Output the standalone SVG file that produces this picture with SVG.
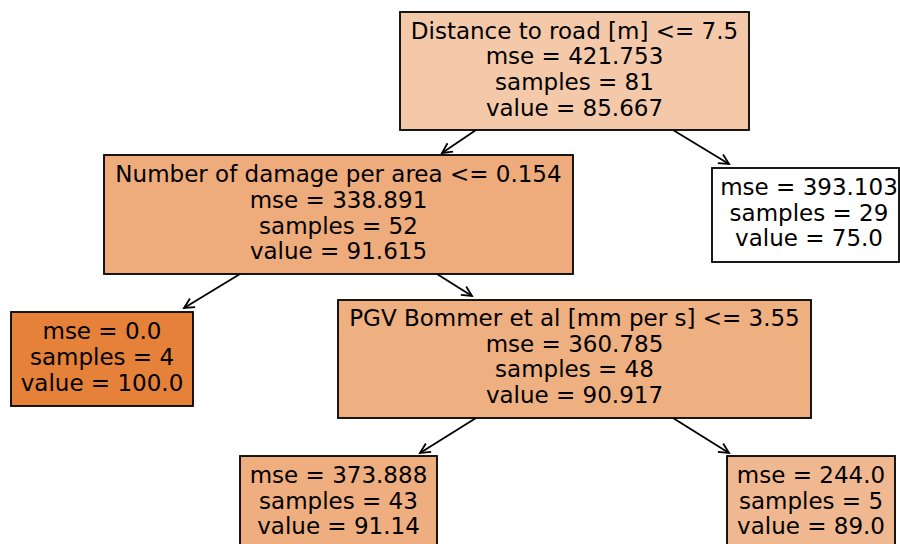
<svg xmlns="http://www.w3.org/2000/svg" width="900" height="544" viewBox="0 0 900 544">
<defs>
<style>
.box{stroke:#000;stroke-width:1.8}
text{font-family:"DejaVu Sans","Liberation Sans",sans-serif;font-size:23px;fill:#000;text-anchor:middle}
.edge{stroke:#000;stroke-width:1.8;fill:none}
</style>
<marker id="arr" markerWidth="14" markerHeight="14" refX="12" refY="7" orient="auto" markerUnits="userSpaceOnUse">
<path d="M2,2 L12,7 L2,12" fill="none" stroke="#000" stroke-width="1.8"/>
</marker>
</defs>
<rect width="900" height="544" fill="#fff"/>
<g id="connectors">
<line class="edge" x1="476" y1="130" x2="442" y2="153" marker-end="url(#arr)"/>
<line class="edge" x1="673" y1="130" x2="729" y2="164" marker-end="url(#arr)"/>
<line class="edge" x1="240" y1="274" x2="184" y2="308" marker-end="url(#arr)"/>
<line class="edge" x1="437" y1="274" x2="472" y2="296" marker-end="url(#arr)"/>
<line class="edge" x1="476" y1="418" x2="420" y2="453" marker-end="url(#arr)"/>
<line class="edge" x1="673" y1="418" x2="729" y2="453" marker-end="url(#arr)"/>
</g>
<g id="node0">
<rect class="box" x="400" y="12" width="349" height="118" fill="#f4c9aa"/>
<text x="574.5" y="38.5">Distance to road [m] &lt;= 7.5</text>
<text x="574.5" y="64.3">mse = 421.753</text>
<text x="574.5" y="90">samples = 81</text>
<text x="574.5" y="115.8">value = 85.667</text>
</g>
<g id="node1">
<rect class="box" x="104" y="155" width="469" height="119" fill="#eeab7b"/>
<text x="338.5" y="182">Number of damage per area &lt;= 0.154</text>
<text x="338.5" y="208">mse = 338.891</text>
<text x="338.5" y="233.7">samples = 52</text>
<text x="338.5" y="259.4">value = 91.615</text>
</g>
<g id="node2">
<rect class="box" x="11" y="312" width="182" height="94" fill="#e58139"/>
<text x="102" y="339">mse = 0.0</text>
<text x="102" y="364.8">samples = 4</text>
<text x="102" y="390.5">value = 100.0</text>
</g>
<g id="node3">
<rect class="box" x="338" y="300" width="473" height="118" fill="#eeaf81"/>
<text x="574.5" y="326">PGV Bommer et al [mm per s] &lt;= 3.55</text>
<text x="574.5" y="351.7">mse = 360.785</text>
<text x="574.5" y="377.4">samples = 48</text>
<text x="574.5" y="403">value = 90.917</text>
</g>
<g id="node4">
<rect class="box" x="240" y="456" width="197" height="94" fill="#eeae7f"/>
<text x="338.5" y="483">mse = 373.888</text>
<text x="338.5" y="508.7">samples = 43</text>
<text x="338.5" y="534.4">value = 91.14</text>
</g>
<g id="node5">
<rect class="box" x="727" y="456" width="168" height="94" fill="#f0b890"/>
<text x="811" y="483">mse = 244.0</text>
<text x="811" y="508.7">samples = 5</text>
<text x="811" y="534.4">value = 89.0</text>
</g>
<g id="node6">
<rect class="box" x="712" y="168" width="187" height="94" fill="#ffffff"/>
<text x="809" y="195">mse = 393.103</text>
<text x="809" y="220.7">samples = 29</text>
<text x="809" y="246.4">value = 75.0</text>
</g>
</svg>
